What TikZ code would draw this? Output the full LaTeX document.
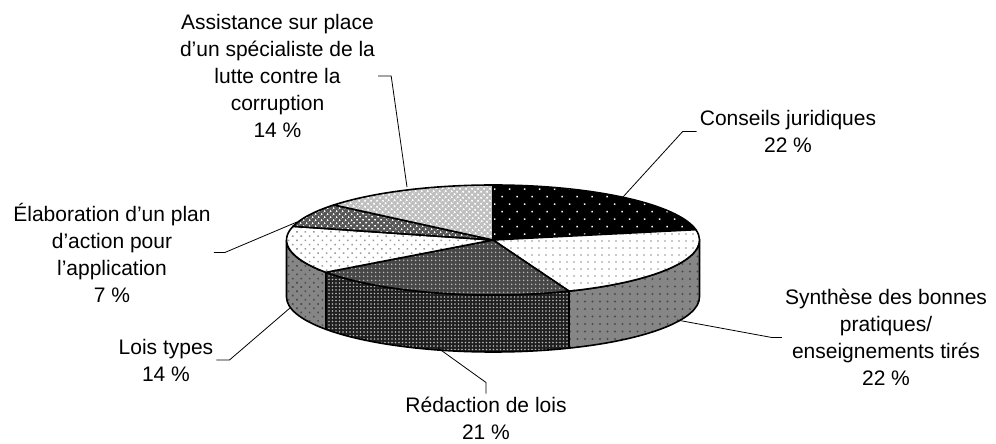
\documentclass[tikz,border=0pt]{standalone}
\usepackage{fontspec}
\setmainfont{Liberation Sans}
\usetikzlibrary{patterns.meta}

\tikzset{
  slice/.style={draw=black, line width=1.6pt, line join=round},
  lbl/.style={align=center, inner sep=3pt, font=\fontsize{21}{27}\selectfont},
  leader/.style={draw=black, line width=0.8pt},
  % top faces
  consT/.style={slice, preaction={fill=black}, pattern={Dots[distance=10.6pt, angle=45, radius=1pt]}, pattern color=white},
  synT/.style={slice, preaction={fill=white}, pattern={Dots[distance=7pt, radius=0.8pt]}, pattern color=gray!85},
  redT/.style={slice, preaction={fill=black!72}, pattern={Dots[distance=4pt, radius=1pt]}, pattern color=gray!55},
  loisT/.style={slice, preaction={fill=white}, pattern={Dots[distance=6pt, angle=45, radius=1.1pt]}, pattern color=gray!80},
  elabT/.style={slice, preaction={fill=black!66}, pattern={Dots[distance=4pt, angle=45, radius=1.1pt]}, pattern color=white},
  assT/.style={slice, preaction={fill=gray!50}, pattern={Dots[distance=4pt, angle=45, radius=1.3pt]}, pattern color=white},
  % side faces
  synS/.style={slice, preaction={fill=gray!95}, pattern={Dots[distance=7.5pt, radius=1.1pt]}, pattern color=black!70},
  redS/.style={slice, preaction={fill=black!88}, pattern={Dots[distance=3.5pt, radius=0.9pt]}, pattern color=gray!55},
  loisS/.style={slice, preaction={fill=gray!95}, pattern={Dots[distance=6pt, angle=45, radius=1.1pt]}, pattern color=black!70},
}

\begin{document}
\begin{tikzpicture}[x=1pt,y=1pt]
  \useasboundingbox (0,0) rectangle (996,444);

  % front of the cake
  \foreach \a/\b/\s in {0/-68.4/synS, -68.4/-144/redS, -144/-180/loisS} {
    \path[\s] ([shift={(\a:206.5pt and 55pt)}]493,204)
      arc[start angle=\a, end angle=\b, x radius=206.5pt, y radius=55pt]
      -- ++(0,-57)
      arc[start angle=\b, end angle=\a, x radius=206.5pt, y radius=55pt] -- cycle;
  }

  % top of the cake
  \foreach \a/\b/\s in {90/10.8/consT, 10.8/-68.4/synT, -68.4/-144/redT,
                        -144/-194.4/loisT, -194.4/-219.6/elabT, -219.6/-270/assT} {
    \path[\s] (493,204) -- ([shift={(\a:206.5pt and 55pt)}]493,204)
      arc[start angle=\a, end angle=\b, x radius=206.5pt, y radius=55pt] -- cycle;
  }

  % leader ends
  \coordinate (pA) at (407,257);
  \coordinate (pC) at (623,247);
  \coordinate (pS) at (677,124);
  \coordinate (pR) at (438,96);
  \coordinate (pE) at (297,222);
  \coordinate (pL) at (290,136);

  % labels
  \node[lbl] (ass) at (277.5,368) {Assistance sur place\\d’un spécialiste de la\\lutte contre la\\corruption\\14 \%};
  \node[lbl] (cons) at (788,312.5) {Conseils juridiques\\22 \%};
  \node[lbl] (syn) at (886,106.5) {Synthèse des bonnes\\pratiques/\\enseignements tirés\\22 \%};
  \node[lbl] (red) at (486,26) {Rédaction de lois\\21 \%};
  \node[lbl] (elab) at (112,191.5) {Élaboration d’un plan\\d’action pour\\l’application\\7 \%};
  \node[lbl] (lois) at (166,84) {Lois types\\14 \%};

  \draw[leader] (ass.east) -- ++(13,0) -- (pA);
  \draw[leader] (cons.west) -- ++(-14,0) -- (pC);
  \draw[leader] (syn.west) -- ++(-10,0) -- (pS);
  \draw[leader] (red.north) -- ++(0,11) -- (pR);
  \draw[leader] (elab.east) -- ++(11,0) -- (pE);
  \draw[leader] (lois.east) -- ++(13,0) -- (pL);
\end{tikzpicture}
\end{document}
